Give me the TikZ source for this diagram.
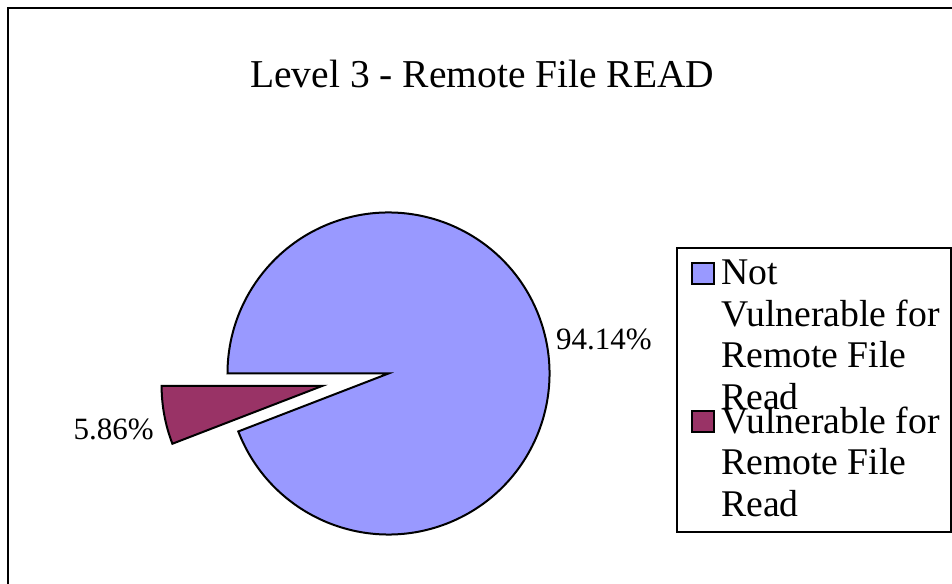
\documentclass[tikz,border=0pt]{standalone}
\usepackage{fontspec}
\setmainfont{Liberation Serif}
\definecolor{pieblue}{HTML}{9999FF}
\definecolor{piered}{HTML}{993366}
\tikzset{
  slice/.style={draw=black, line width=2pt, line join=miter},
  lbl/.style={inner sep=0pt, font=\fontsize{31}{35}\selectfont},
  legtext/.style={inner sep=0pt, anchor=base west, font=\fontsize{37.7}{42}\selectfont},
  legkey/.style={draw=black, line width=2pt, minimum width=22pt, minimum height=21pt, inner sep=0pt},
}
\begin{document}
\begin{tikzpicture}[x=1pt,y=1pt]
\useasboundingbox (0,0) rectangle (952,583);
% outer frame (cropped at right and bottom)
\draw[line width=2.6pt] (8,-5) -- (8,575) -- (960,575);
% title
\node[inner sep=0pt, anchor=base, font=\fontsize{39.5}{45}\selectfont] (title) at (482.3,495.3) {Level 3 - Remote File READ};
% pie
\coordinate (c) at (388.5,209.5);
\coordinate (c2) at (322.6,197.2);
\fill[pieblue] (c) -- ++(201.096:161) arc[start angle=201.096, end angle=540, radius=161] -- cycle;
\draw[slice] (c) -- ++(201.096:161) arc[start angle=201.096, end angle=540, radius=161] -- cycle;
\fill[piered] (c2) -- ++(180:161) arc[start angle=180, end angle=201.096, radius=161] -- cycle;
\draw[slice] (c2) -- ++(180:161) arc[start angle=180, end angle=201.096, radius=161] -- cycle;
% data labels
\node[lbl, anchor=base west] (l1) at (556,233.7) {94.14\%};
\node[lbl, anchor=base east] (l2) at (154,143.7) {5.86\%};
% legend
\draw[line width=2pt] (677,51) rectangle (951,335);
\node[legkey, fill=pieblue] (k1) at (702.5,309.85) {};
\node[legkey, fill=piered] (k2) at (702.5,161.3) {};
\node[legtext] (t1a) at (721,298.7) {Not};
\node[legtext] (t1b) at (721,256.5) {Vulnerable for};
\node[legtext] (t1c) at (721,215) {Remote File};
\node[legtext] (t1d) at (721,173) {Read};
\node[legtext] (t2a) at (721,149) {Vulnerable for};
\node[legtext] (t2b) at (721,108) {Remote File};
\node[legtext] (t2c) at (721,66.3) {Read};
\end{tikzpicture}
\end{document}
